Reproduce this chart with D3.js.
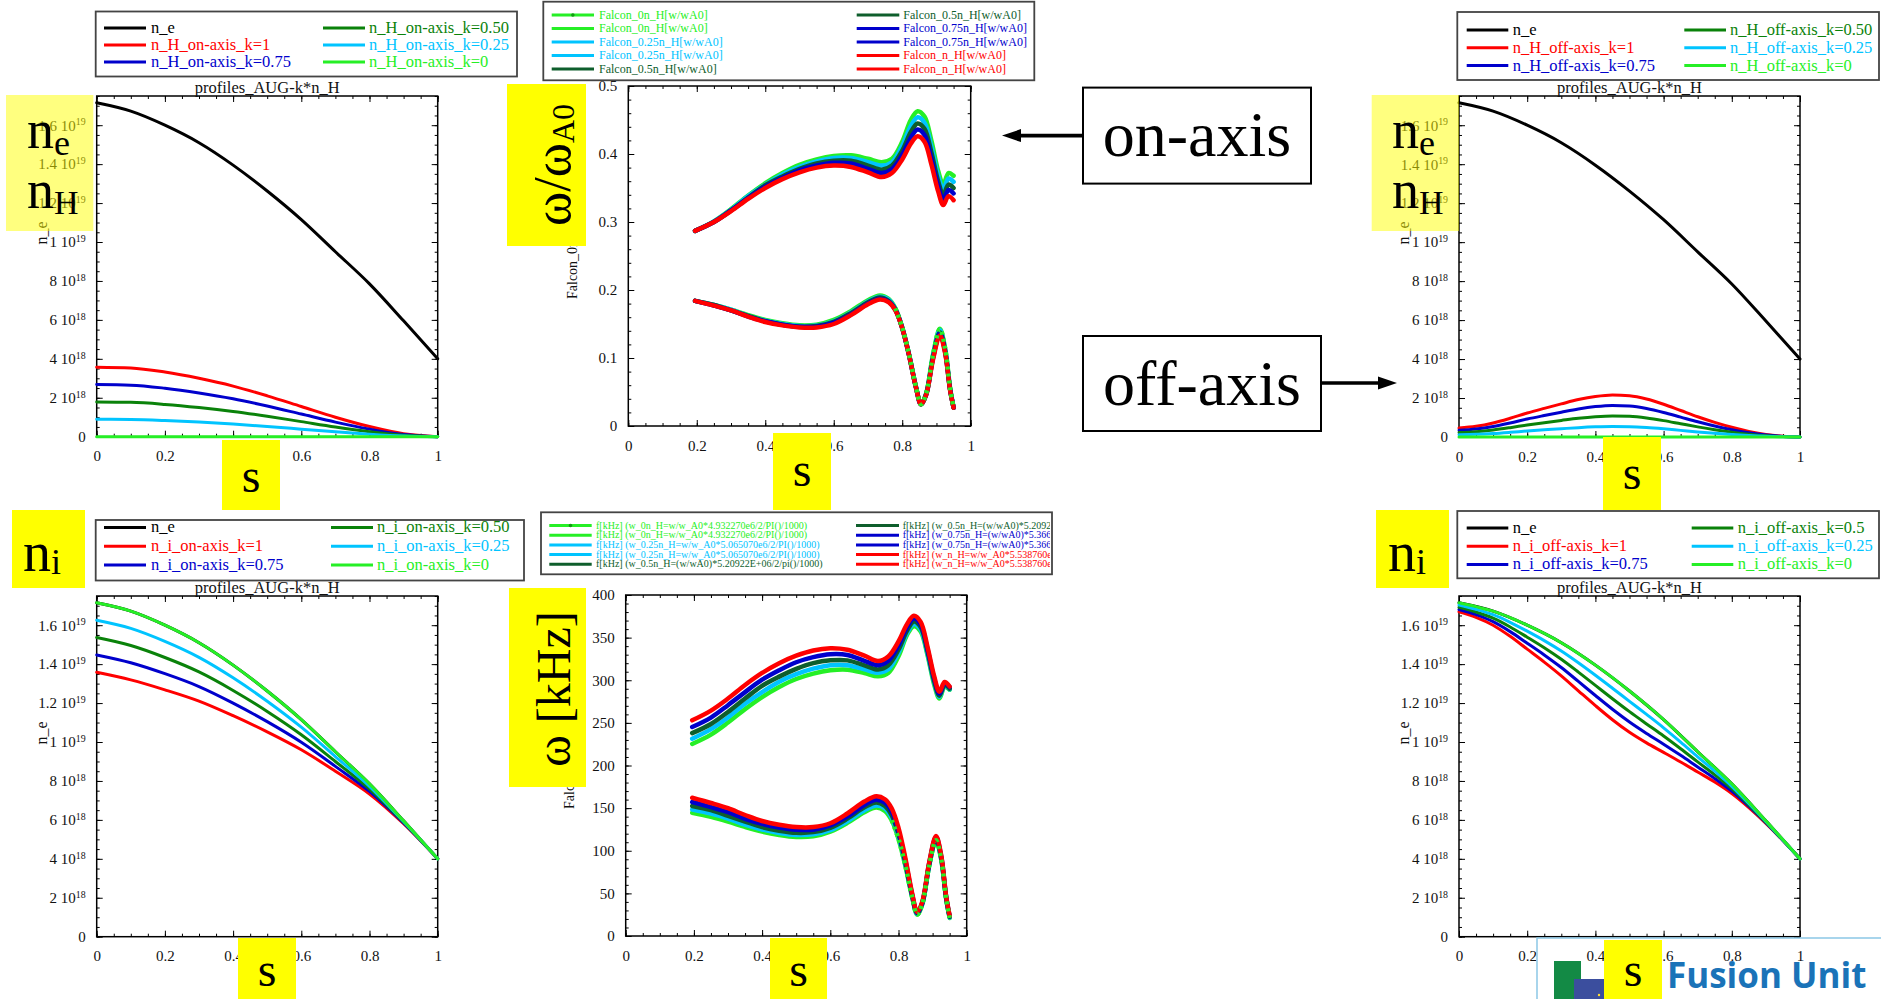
<!DOCTYPE html>
<html><head><meta charset="utf-8">
<script src="https://cdn.jsdelivr.net/npm/d3@7"></script>
<style>
html,body{margin:0;padding:0;background:#fff;}
svg{display:block;}
</style></head><body>
<svg id="c" width="1881" height="999"></svg>
<script>
// ---------- density profiles, in units of 1e18 m^-3 ----------
const sProfile = [0, 0.1, 0.2, 0.3, 0.4, 0.5, 0.6, 0.7, 0.8, 0.9, 1.0];
const nE       = [17.15, 16.72, 16.0, 15.1, 13.95, 12.62, 11.15, 9.5, 7.85, 5.95, 4.0];
const nHOnAxis = [3.57, 3.53, 3.32, 3.0, 2.6, 2.1, 1.55, 1.0, 0.52, 0.15, 0.0];   // k = 1
const sOff      = [0, 0.05, 0.1, 0.15, 0.2, 0.25, 0.3, 0.35, 0.4, 0.45, 0.5, 0.55, 0.6, 0.65, 0.7, 0.75, 0.8, 0.85, 0.9, 0.95, 1.0];
const nHOffAxis = [0.46, 0.55, 0.72, 0.96, 1.23, 1.47, 1.70, 1.92, 2.08, 2.16, 2.12, 1.95, 1.68, 1.36, 1.04, 0.75, 0.50, 0.29, 0.13, 0.04, 0.0]; // k = 1
const kValues = [1, 0.75, 0.5, 0.25, 0];

// ---------- Falcon eigenfrequencies, w / w_A0 ----------
// series order: k = 0, 0.25, 0.5, 0.75, 1
const sUpper = [0.195, 0.25, 0.3, 0.35, 0.4, 0.45, 0.5, 0.55, 0.6, 0.65, 0.7, 0.74, 0.77, 0.8, 0.825, 0.845, 0.865, 0.885, 0.905, 0.92, 0.935, 0.95];
const upperK0   = [.287,.301,.319,.339,.357,.372,.384,.392,.397,.398,.393,.388,.393,.418,.450,.463,.455,.420,.375,.355,.372,.368];
const upperK025 = [.287,.301,.318,.338,.355,.370,.381,.389,.394,.394,.388,.383,.388,.412,.441,.454,.446,.411,.368,.348,.364,.359];
const upperK05  = [.287,.300,.317,.336,.354,.367,.378,.386,.390,.390,.383,.377,.383,.405,.432,.445,.437,.403,.360,.340,.355,.350];
const upperK075 = [.287,.300,.317,.335,.352,.365,.376,.383,.387,.386,.378,.372,.378,.399,.424,.436,.428,.394,.353,.333,.347,.342];
const upperK1   = [.287,.300,.316,.334,.350,.363,.373,.380,.383,.381,.373,.366,.372,.392,.415,.426,.418,.385,.345,.325,.338,.332];

const sLower = [0.195, 0.25, 0.3, 0.35, 0.4, 0.45, 0.5, 0.55, 0.6, 0.65, 0.7, 0.735, 0.76, 0.78, 0.8, 0.82, 0.84, 0.855, 0.87, 0.89, 0.91, 0.925, 0.94, 0.95];
const lowerK0   = [.184,.178,.171,.163,.156,.151,.148,.149,.156,.169,.185,.192,.187,.173,.145,.105,.058,.032,.048,.105,.143,.115,.055,.027];
const lowerK025 = [.184,.178,.171,.162,.155,.150,.147,.148,.154,.167,.183,.190,.186,.172,.145,.105,.058,.032,.047,.103,.141,.113,.054,.027];
const lowerK05  = [.184,.178,.170,.162,.154,.149,.146,.147,.153,.166,.182,.189,.184,.171,.144,.104,.057,.032,.047,.101,.138,.111,.053,.027];
const lowerK075 = [.184,.177,.170,.161,.154,.149,.146,.146,.152,.164,.180,.187,.183,.171,.144,.104,.057,.032,.046,.100,.136,.110,.053,.027];
const lowerK1   = [.184,.177,.170,.161,.153,.148,.145,.145,.150,.163,.179,.186,.182,.170,.144,.104,.057,.032,.046,.098,.133,.108,.052,.027];

// w_A0 per case (rad/s), as written in the legend: f[kHz] = w/w_A0 * wA0 / 2 / pi / 1000
const omegaA0 = [4.932270e6, 5.065070e6, 5.20922e6, 5.36640e6, 5.538760e6];

// ---------- tick labels ----------
const sTicks = [0, 0.2, 0.4, 0.6, 0.8, 1];
const densityTicks = [0, 2, 4, 6, 8, 10, 12, 14, 16];   // 1e18
const ratioTicks = [0, 0.1, 0.2, 0.3, 0.4, 0.5];
const khzTicks = [0, 50, 100, 150, 200, 250, 300, 350, 400];

// ---------- legend texts ----------
const legendOnH  = ['n_e','n_H_on-axis_k=1','n_H_on-axis_k=0.75','n_H_on-axis_k=0.50','n_H_on-axis_k=0.25','n_H_on-axis_k=0'];
const legendOffH = ['n_e','n_H_off-axis_k=1','n_H_off-axis_k=0.75','n_H_off-axis_k=0.50','n_H_off-axis_k=0.25','n_H_off-axis_k=0'];
const legendOnI  = ['n_e','n_i_on-axis_k=1','n_i_on-axis_k=0.75','n_i_on-axis_k=0.50','n_i_on-axis_k=0.25','n_i_on-axis_k=0'];
const legendOffI = ['n_e','n_i_off-axis_k=1','n_i_off-axis_k=0.75','n_i_off-axis_k=0.5','n_i_off-axis_k=0.25','n_i_off-axis_k=0'];
const legendFalcon = ['Falcon_0n_H[w/wA0]','Falcon_0n_H[w/wA0]','Falcon_0.25n_H[w/wA0]','Falcon_0.25n_H[w/wA0]','Falcon_0.5n_H[w/wA0]',
  'Falcon_0.5n_H[w/wA0]','Falcon_0.75n_H[w/wA0]','Falcon_0.75n_H[w/wA0]','Falcon_n_H[w/wA0]','Falcon_n_H[w/wA0]'];
const legendKHz = [
  'f[kHz] (w_0n_H=w/w_A0*4.932270e6/2/PI()/1000)','f[kHz] (w_0n_H=w/w_A0*4.932270e6/2/PI()/1000)',
  'f[kHz] (w_0.25n_H=w/w_A0*5.065070e6/2/PI()/1000)','f[kHz] (w_0.25n_H=w/w_A0*5.065070e6/2/PI()/1000)',
  'f[kHz] (w_0.5n_H=(w/wA0)*5.20922E+06/2/pi()/1000)','f[kHz] (w_0.5n_H=(w/wA0)*5.20922E+06/2/pi()/1000)',
  'f[kHz] (w_0.75n_H=(w/wA0)*5.36640E+06/2/pi()/1000)','f[kHz] (w_0.75n_H=(w/wA0)*5.36640E+06/2/pi()/1000)',
  'f[kHz] (w_n_H=w/w_A0*5.538760e6/2/PI()/1000)','f[kHz] (w_n_H=w/w_A0*5.538760e6/2/PI()/1000)'];

// ---------- styling ----------
const SERIF = '"Liberation Serif","Times New Roman",Times,serif';
const C = {black:'#000000', red:'#ff0000', blue:'#0000cc', green:'#0a820a', cyan:'#00c4ff', lime:'#26ef26', dkgreen:'#0e5e2c'};
const profileColors = [C.black, C.red, C.blue, C.green, C.cyan, C.lime];
const falconColors = [C.lime, C.cyan, C.dkgreen, C.blue, C.red];   // k = 0 .. 1
const falconLegendColors = [C.lime, C.lime, C.cyan, C.cyan, C.dkgreen, C.dkgreen, C.blue, C.blue, C.red, C.red];

const svg = d3.select('#c');
svg.append('rect').attr('width',1881).attr('height',999).attr('fill','#fff');

const zip = (xs, ys) => xs.map((v, i) => [v, ys[i]]);
const plainNumber = d => String(+d.toFixed(3));

function densityLabel(sel) {
  sel.each(function(d) {
    const t = d3.select(this);
    t.text(null);
    if (d === 0) { t.text('0'); return; }
    const exp = d >= 10 ? 19 : 18;
    const man = +(d / (exp === 19 ? 10 : 1)).toFixed(2);
    t.append('tspan').text(man + ' 10');
    t.append('tspan').attr('dy', '-0.55em').attr('font-size', '0.66em').text(exp);
  });
}

function drawPanel(p) {
  const g = svg.append('g');
  const x = d3.scaleLinear().domain([0, 1]).range([p.L, p.R]);
  const y = d3.scaleLinear().domain(p.yDomain).range([p.B, p.T]);

  const styleAxis = a => {
    a.select('.domain').remove();
    a.attr('font-family', SERIF).attr('font-size', 15);
    a.selectAll('line').attr('stroke', '#000').attr('stroke-width', 1);
    a.selectAll('text').attr('fill', '#111');
  };
  const xMinor = d3.range(0, 1.0001, 0.05);
  const yMinor = d3.range(p.yDomain[0], p.yDomain[1] + 1e-9, p.yMinorStep);

  // minor ticks on all four sides
  [[d3.axisBottom(x).tickValues(xMinor), `translate(0,${p.B})`],
   [d3.axisTop(x).tickValues(xMinor), `translate(0,${p.T})`],
   [d3.axisLeft(y).tickValues(yMinor), `translate(${p.L},0)`],
   [d3.axisRight(y).tickValues(yMinor), `translate(${p.R},0)`]].forEach(([ax, tr]) => {
    g.append('g').attr('transform', tr).call(ax.tickSize(-3).tickSizeOuter(0).tickFormat('')).call(styleAxis);
  });
  // major ticks
  g.append('g').attr('transform', `translate(0,${p.B})`)
    .call(d3.axisBottom(x).tickValues(sTicks).tickFormat(plainNumber).tickSize(-6).tickSizeOuter(0).tickPadding(14)).call(styleAxis);
  g.append('g').attr('transform', `translate(0,${p.T})`)
    .call(d3.axisTop(x).tickValues(sTicks).tickSize(-6).tickSizeOuter(0).tickFormat('')).call(styleAxis);
  const yl = g.append('g').attr('transform', `translate(${p.L},0)`)
    .call(d3.axisLeft(y).tickValues(p.yTicks).tickFormat(plainNumber).tickSize(-6).tickSizeOuter(0).tickPadding(11)).call(styleAxis);
  if (p.density) yl.selectAll('.tick text').call(densityLabel);
  g.append('g').attr('transform', `translate(${p.R},0)`)
    .call(d3.axisRight(y).tickValues(p.yTicks).tickSize(-6).tickSizeOuter(0).tickFormat('')).call(styleAxis);

  g.append('rect').attr('x', p.L).attr('y', p.T).attr('width', p.R - p.L).attr('height', p.B - p.T)
    .attr('fill', 'none').attr('stroke', '#000').attr('stroke-width', 1.5);

  if (p.title) {
    g.append('text').attr('x', (p.L + p.R) / 2).attr('y', p.T - 3).attr('text-anchor', 'middle')
      .attr('font-family', SERIF).attr('font-size', 16.5).attr('fill', '#111').text(p.title);
  }
  if (p.ylabel) {
    g.append('text').attr('transform', `translate(${p.ylabel.x},${p.ylabel.y}) rotate(-90)`)
      .attr('text-anchor', p.ylabel.anchor).attr('font-family', SERIF).attr('font-size', p.ylabel.size)
      .attr('fill', '#111').text(p.ylabel.text);
  }

  const line = d3.line().x(d => x(d[0])).y(d => y(d[1])).curve(p.curve);
  p.series.forEach(sr => {
    g.append('path').datum(sr.pts).attr('d', line).attr('fill', 'none')
      .attr('stroke', sr.color).attr('stroke-width', sr.width || p.lw)
      .attr('stroke-dasharray', sr.dash || null).attr('stroke-linecap', sr.dash ? 'butt' : 'round')
      .attr('stroke-linejoin', 'round');
  });
  return {x, y};
}

// n_e evaluated on another s grid along the same monotone cubic used for drawing
function nEAt(s) {
  const i = sProfile.findIndex(v => Math.abs(v - s) < 1e-9);
  if (i >= 0) return nE[i];
  const j = d3.bisectLeft(sProfile, s);
  const s0 = sProfile[j - 1], s1 = sProfile[j];
  const m = k => {
    if (k <= 0) return (nE[1] - nE[0]) / (sProfile[1] - sProfile[0]);
    if (k >= nE.length - 1) return (nE[k] - nE[k - 1]) / (sProfile[k] - sProfile[k - 1]);
    return (nE[k + 1] - nE[k - 1]) / (sProfile[k + 1] - sProfile[k - 1]);
  };
  const h = s1 - s0, t = (s - s0) / h;
  const h00 = 2*t*t*t - 3*t*t + 1, h10 = t*t*t - 2*t*t + t, h01 = -2*t*t*t + 3*t*t, h11 = t*t*t - t*t;
  return h00 * nE[j - 1] + h10 * h * m(j - 1) + h01 * nE[j] + h11 * h * m(j);
}

// n_e plus k*n_H (upper row) or n_i = n_e - k*n_H (lower row)
function profileSeries(sH, nH, ionDensity) {
  const neAtH = sH.map(nEAt);
  const out = [{pts: zip(sProfile, nE), color: C.black}];
  kValues.forEach((k, i) => {
    const vals = ionDensity ? nH.map((v, j) => neAtH[j] - k * v) : nH.map(v => k * v);
    out.push({pts: zip(sH, vals), color: profileColors[i + 1]});
  });
  return out;
}

// ---------- density panels ----------
const densityBase = {yDomain: [0, 17.5], yTicks: densityTicks, yMinorStep: 0.5, density: true,
  curve: d3.curveMonotoneX, lw: 3, title: 'profiles_AUG-k*n_H'};

drawPanel(Object.assign({}, densityBase, {L: 96.7, R: 437.7, T: 96, B: 436.7,
  ylabel: {x: 47, y: 233, text: 'n_e', size: 16, anchor: 'middle'},
  series: profileSeries(sProfile, nHOnAxis, false)}));
drawPanel(Object.assign({}, densityBase, {L: 1459, R: 1800, T: 96, B: 437,
  ylabel: {x: 1409, y: 233, text: 'n_e', size: 16, anchor: 'middle'},
  series: profileSeries(sOff, nHOffAxis, false)}));
drawPanel(Object.assign({}, densityBase, {L: 96.7, R: 437.7, T: 596, B: 936.7,
  ylabel: {x: 47, y: 733, text: 'n_e', size: 16, anchor: 'middle'},
  series: profileSeries(sProfile, nHOnAxis, true)}));
drawPanel(Object.assign({}, densityBase, {L: 1459, R: 1800, T: 596, B: 936.7,
  ylabel: {x: 1409, y: 733, text: 'n_e', size: 16, anchor: 'middle'},
  series: profileSeries(sOff, nHOffAxis, true)}));

// ---------- Falcon panels ----------
const upperSets = [upperK0, upperK025, upperK05, upperK075, upperK1];
const lowerSets = [lowerK0, lowerK025, lowerK05, lowerK075, lowerK1];

function falconSeries(scale) {
  const out = [];
  falconColors.forEach((col, i) => {
    const f = scale ? omegaA0[i] / 2 / Math.PI / 1000 : 1;
    out.push({pts: zip(sUpper, upperSets[i].map(v => v * f)), color: col});
    out.push({pts: zip(sLower, lowerSets[i].map(v => v * f)), color: col});
  });
  // k = 0 branch overlaps the others near the edge; it is drawn dotted on top there
  const f0 = scale ? omegaA0[0] / 2 / Math.PI / 1000 : 1;
  const start = sLower.indexOf(0.78);
  out.push({pts: zip(sLower.slice(start), lowerK0.slice(start).map(v => v * f0)), color: C.lime, dash: '3 4'});
  return out;
}

drawPanel({L: 628.3, R: 970.7, T: 86, B: 426, yDomain: [0, 0.5], yTicks: ratioTicks, yMinorStep: 0.02,
  curve: d3.curveCatmullRom.alpha(0.5), lw: 4.5,
  ylabel: {x: 577, y: 299, text: 'Falcon_0n_H[w/wA0]', size: 14, anchor: 'start'},
  series: falconSeries(false)});
drawPanel({L: 625.7, R: 966.7, T: 595, B: 936, yDomain: [0, 400], yTicks: khzTicks, yMinorStep: 10,
  curve: d3.curveCatmullRom.alpha(0.5), lw: 4.5,
  ylabel: {x: 574, y: 809, text: 'Falcon_0n_H[kHz]', size: 14, anchor: 'start'},
  series: falconSeries(true)});

// ---------- legends ----------
function drawLegend(cfg) {
  const g = svg.append('g');
  g.append('rect').attr('x', cfg.x0).attr('y', cfg.y0).attr('width', cfg.x1 - cfg.x0).attr('height', cfg.y1 - cfg.y0)
    .attr('fill', '#fff').attr('stroke', '#444').attr('stroke-width', 1.8);
  let body = g;
  if (cfg.clip) {
    const id = 'clip' + Math.round(cfg.x0) + Math.round(cfg.y0);
    svg.append('clipPath').attr('id', id).append('rect').attr('x', cfg.x0).attr('y', cfg.y0)
      .attr('width', cfg.x1 - cfg.x0 - 2).attr('height', cfg.y1 - cfg.y0);
    body = g.append('g').attr('clip-path', `url(#${id})`);
  }
  cfg.labels.forEach((label, i) => {
    const c = Math.floor(i / cfg.perCol), r = i % cfg.perCol;
    const col = cfg.cols[c], yy = cfg.row0 + r * cfg.rowStep, color = cfg.colors[i];
    body.append('line').attr('x1', col[0]).attr('x2', col[1]).attr('y1', yy).attr('y2', yy)
      .attr('stroke', color).attr('stroke-width', cfg.lw);
    if (cfg.marker && i === 0) {
      body.append('circle').attr('cx', (col[0] + col[1]) / 2).attr('cy', yy).attr('r', 1.8).attr('fill', '#119911');
    }
    body.append('text').attr('x', col[2]).attr('y', yy + cfg.font * 0.3).attr('font-family', SERIF)
      .attr('font-size', cfg.font).attr('fill', color).text(label);
  });
}

drawLegend({x0: 95.7, y0: 11.5, x1: 517, y1: 76.5, labels: legendOnH, colors: profileColors, perCol: 3,
  cols: [[104, 146, 151], [323, 365, 369]], row0: 28, rowStep: 17, font: 16.5, lw: 3});
drawLegend({x0: 1457.3, y0: 12, x1: 1879, y1: 80, labels: legendOffH, colors: profileColors, perCol: 3,
  cols: [[1466.7, 1508.3, 1512.7], [1684.3, 1726, 1730]], row0: 30, rowStep: 17.8, font: 16.5, lw: 3});
drawLegend({x0: 95.7, y0: 520, x1: 524, y1: 580.5, labels: legendOnI, colors: profileColors, perCol: 3,
  cols: [[104, 146, 151], [331, 373, 377]], row0: 527.5, rowStep: 18.7, font: 16.5, lw: 3});
drawLegend({x0: 1457.3, y0: 511, x1: 1879, y1: 578.3, labels: legendOffI, colors: profileColors, perCol: 3,
  cols: [[1466.7, 1508.3, 1512.7], [1691.7, 1733.3, 1737.7]], row0: 528, rowStep: 18.2, font: 16.5, lw: 3});
drawLegend({x0: 543.3, y0: 1.7, x1: 1034.3, y1: 80.3, labels: legendFalcon, colors: falconLegendColors, perCol: 5,
  cols: [[551.7, 594, 599], [856.7, 899.3, 903.3]], row0: 15, rowStep: 13.5, font: 12, lw: 3, marker: true});
drawLegend({x0: 541, y0: 512.3, x1: 1052, y1: 574.3, labels: legendKHz, colors: falconLegendColors, perCol: 5,
  cols: [[549.3, 591.7, 596], [856, 899, 902.7]], row0: 525.5, rowStep: 9.7, font: 10, lw: 3, marker: true, clip: true});

// ---------- institute logo ----------
const logo = svg.append('g');
logo.append('path').attr('d', 'M1537,999 L1537,938 L1881,938').attr('fill', 'none').attr('stroke', '#8cc8e6').attr('stroke-width', 1.5);
logo.append('rect').attr('x', 1554).attr('y', 961).attr('width', 27).attr('height', 38).attr('fill', '#138a45');
logo.append('rect').attr('x', 1574).attr('y', 979).attr('width', 36).attr('height', 20).attr('fill', '#3b4e9e');
logo.append('circle').attr('cx', 1599).attr('cy', 995).attr('r', 1.2).attr('fill', '#ffdd33');
logo.append('text').attr('x', 1667).attr('y', 988).attr('font-family', '"Open Sans","Noto Sans",sans-serif')
  .attr('font-weight', 'bold').attr('font-size', 35).attr('fill', '#1a73b8').text('Fusion Unit');

// ---------- highlighted axis names ----------
const ann = svg.append('g');
function box(x, y, w, h, pale) {
  ann.append('rect').attr('x', x).attr('y', y).attr('width', w).attr('height', h)
    .attr('fill', '#ffff00').attr('fill-opacity', pale ? 0.5 : 1);
}
function subLabel(x, y, main, sub, size, subSize, dy) {
  const t = ann.append('text').attr('x', x).attr('y', y).attr('font-family', SERIF).attr('font-size', size).attr('fill', '#000');
  t.append('tspan').text(main);
  t.append('tspan').attr('dy', dy).attr('font-size', subSize).text(sub);
  return t;
}
// n_e / n_H
[[6, 27], [1371.7, 1392]].forEach(([bx, tx]) => {
  box(bx, 95, 87.3, 136, true);
  subLabel(tx, 148, 'n', 'e', 54, 36, 7);
  subLabel(tx, 208, 'n', 'H', 54, 34, 6);
});
// n_i
[[12, 23], [1376, 1388]].forEach(([bx, tx]) => {
  box(bx, 510, 73, 78, false);
  subLabel(tx, 571, 'n', 'i', 56, 36, 3);
});
// w / w_A0 and w [kHz]
box(507, 84, 79, 162, false);
ann.append('text').attr('transform', 'translate(570,165) rotate(-90)').attr('text-anchor', 'middle')
  .attr('font-family', SERIF).attr('font-size', 52).attr('fill', '#000')
  .call(t => { t.append('tspan').text('ω/ω'); t.append('tspan').attr('dy', 4).attr('font-size', 32).text('A0'); });
box(509, 588, 77, 199, false);
ann.append('text').attr('transform', 'translate(570,689) rotate(-90)').attr('text-anchor', 'middle')
  .attr('font-family', SERIF).attr('font-size', 48).attr('fill', '#000').text('ω [kHz]');
// s
[[222, 440, 58, 70, 492], [773, 433, 58, 77, 486], [1603, 437, 58, 73, 489],
 [238, 938, 58, 61, 986], [770, 938, 57, 61, 986], [1604, 940, 58, 59, 986]].forEach(([x, y, w, h, base]) => {
  box(x, y, w, h, false);
  ann.append('text').attr('x', x + w / 2).attr('y', base).attr('text-anchor', 'middle')
    .attr('font-family', SERIF).attr('font-size', 48).attr('fill', '#000').text('s');
});

// ---------- on-axis / off-axis callouts ----------
const call = svg.append('g');
function callout(x, y, w, h, label, baseline, from, to, ay) {
  call.append('rect').attr('x', x).attr('y', y).attr('width', w).attr('height', h)
    .attr('fill', '#fff').attr('stroke', '#000').attr('stroke-width', 2);
  call.append('text').attr('x', x + w / 2).attr('y', baseline).attr('text-anchor', 'middle')
    .attr('font-family', SERIF).attr('font-size', 64).attr('fill', '#000').text(label);
  const dir = Math.sign(to - from), base = to - dir * 19;
  call.append('line').attr('x1', from).attr('x2', base).attr('y1', ay).attr('y2', ay)
    .attr('stroke', '#000').attr('stroke-width', 3.6);
  call.append('path').attr('d', `M${to},${ay} L${base},${ay - 6.5} L${base},${ay + 6.5} Z`).attr('fill', '#000');
}
callout(1083, 87.6, 228, 96, 'on-axis', 156, 1083, 1002, 135.6);
callout(1083, 336, 238, 95, 'off-axis', 405, 1321, 1397, 383);
</script>
</body></html>
